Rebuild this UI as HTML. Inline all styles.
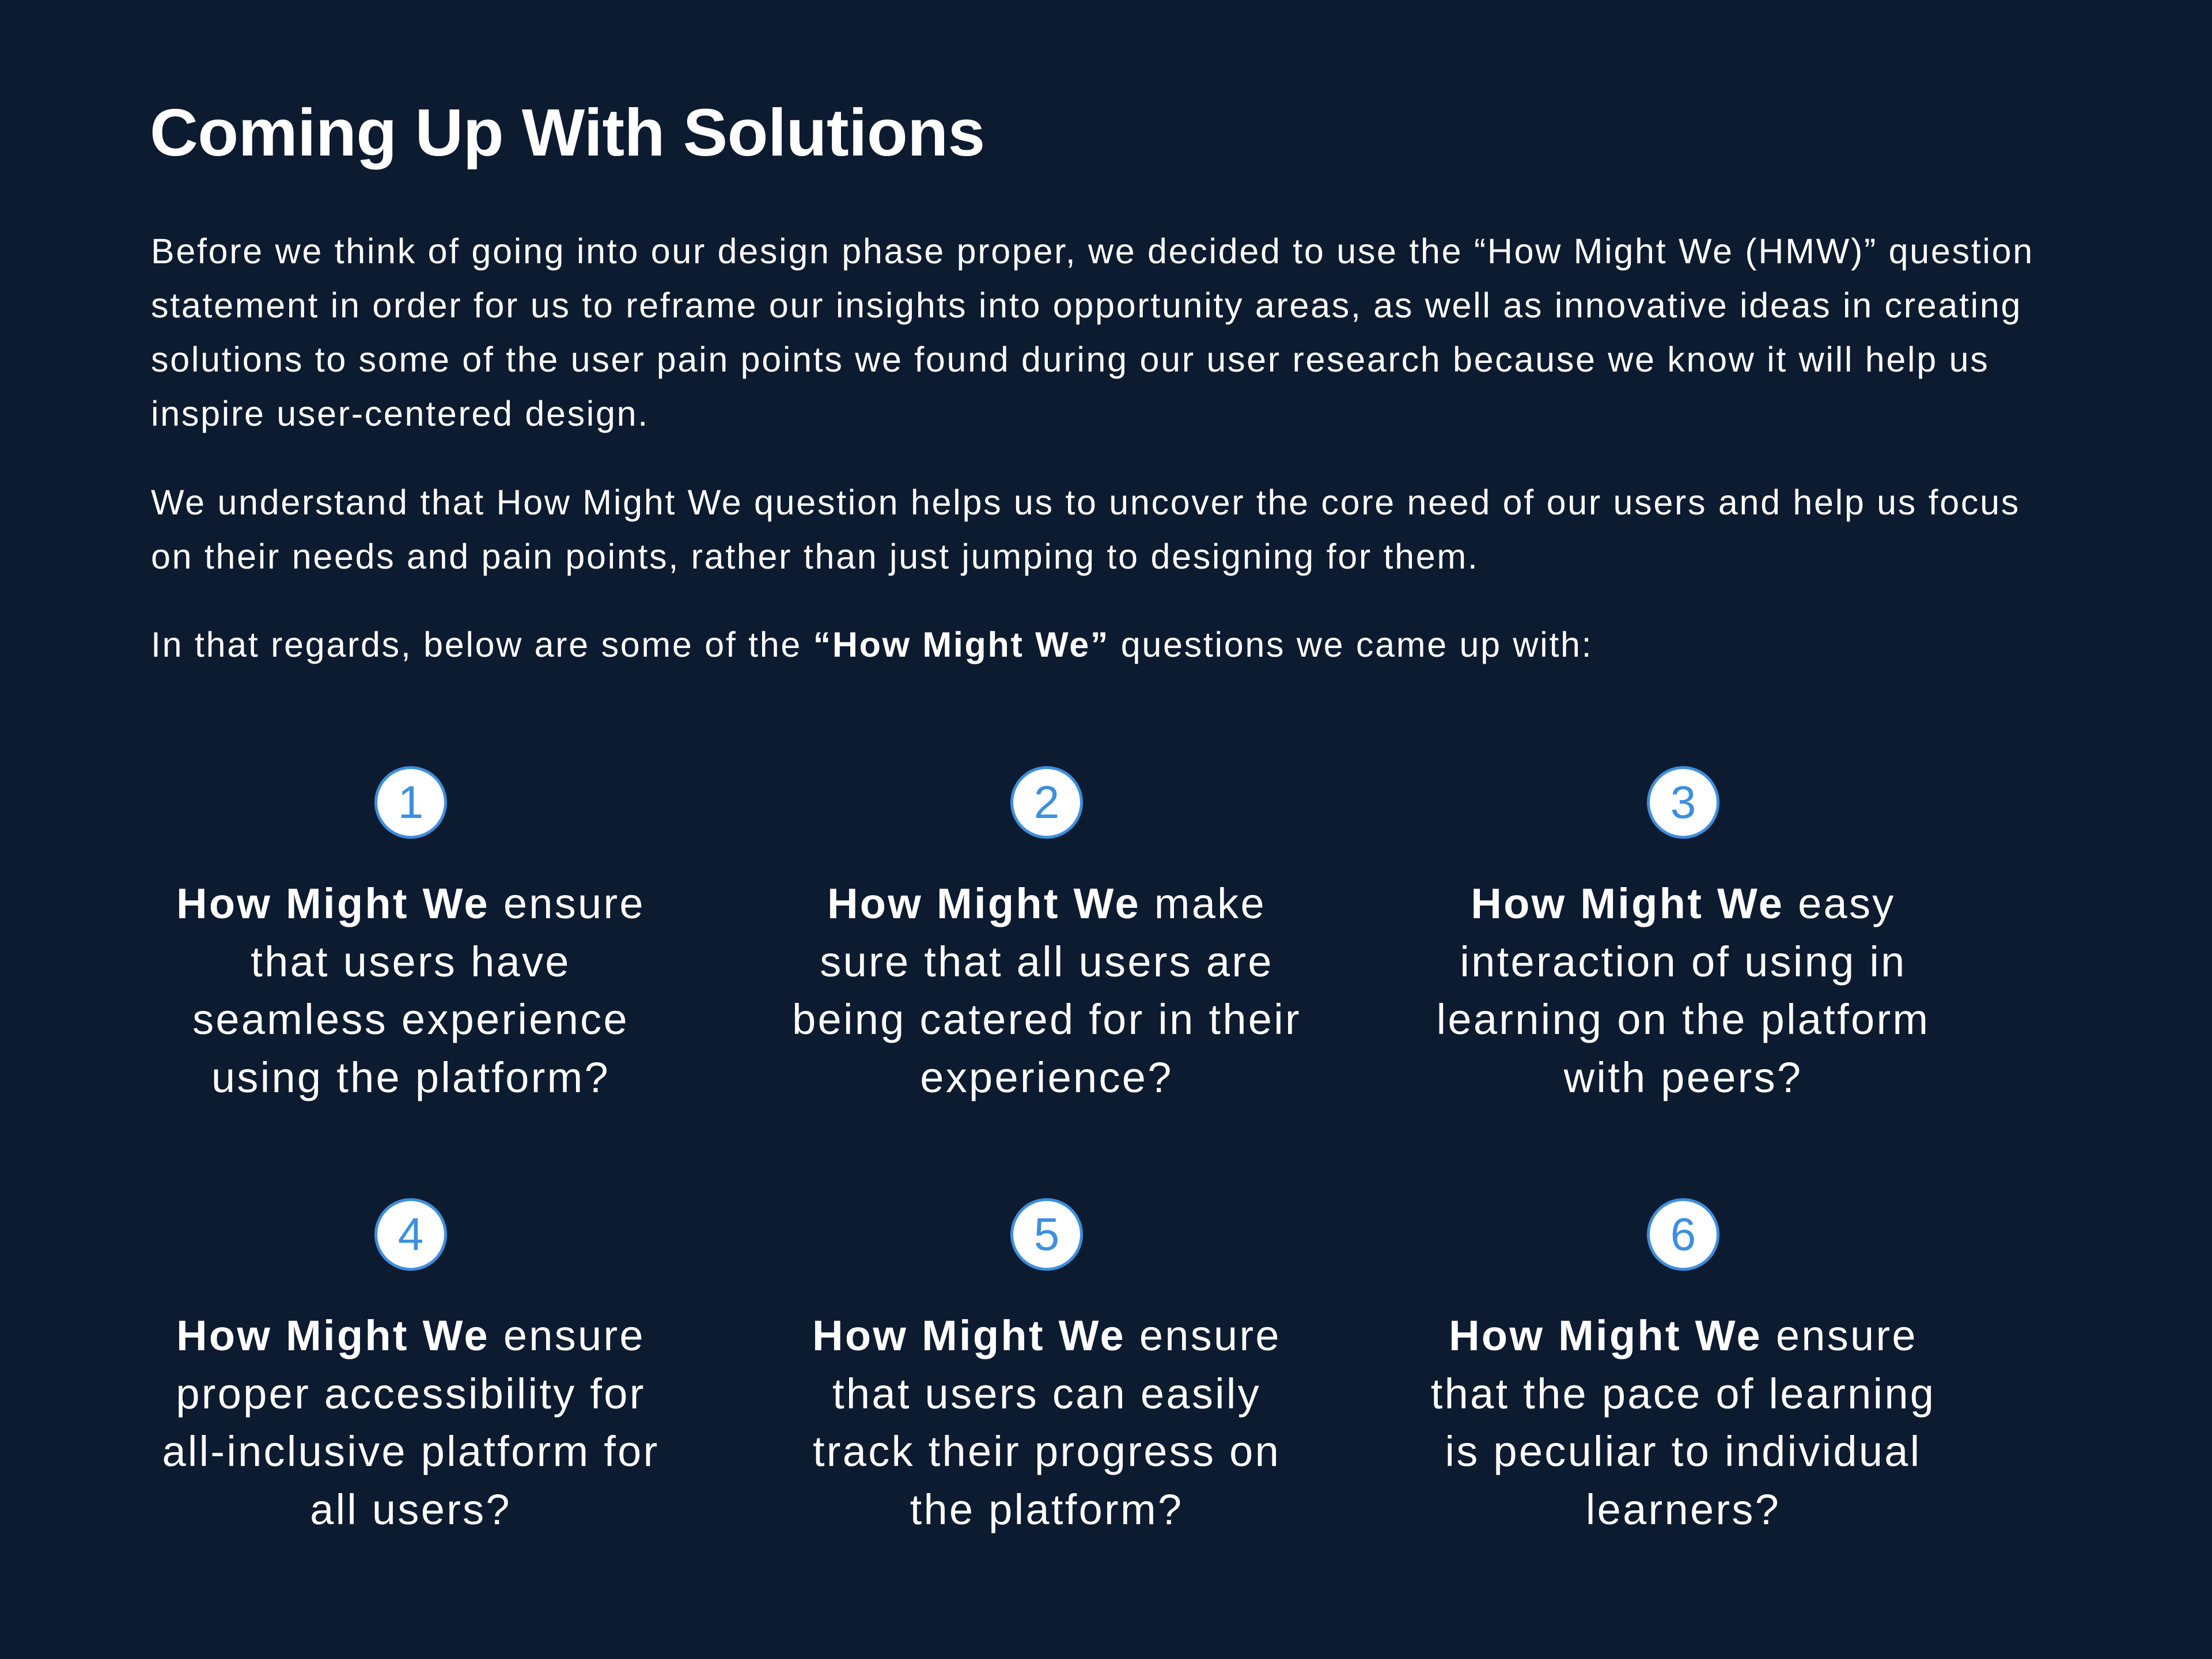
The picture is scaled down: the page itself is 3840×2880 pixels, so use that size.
<!DOCTYPE html>
<html><head><meta charset="utf-8"><style>
*{margin:0;padding:0;box-sizing:border-box}
body{width:3840px;height:2880px;background:#0d1b30;color:#fff;font-family:"Liberation Sans",sans-serif;position:relative;overflow:hidden}
.t{position:absolute;white-space:nowrap}
.title{left:260px;top:160px;font-size:116px;font-weight:bold;line-height:140px;letter-spacing:-0.5px}
.p{left:262px;font-size:61px;line-height:94px;letter-spacing:2.7px}
.c{position:absolute;width:126px;height:126px;border-radius:50%;background:#fff;border:5px solid #3d8fe0;color:#3d8fe0;font-size:80px;line-height:116px;text-align:center}
.q{position:absolute;width:1100px;text-align:center;font-size:74px;line-height:100.5px;white-space:nowrap;letter-spacing:3.3px}
.q b{font-weight:bold}
</style></head><body>
<div class="t title">Coming Up With Solutions</div>
<div class="t p" style="top:389px">Before we think of going into our design phase proper, we decided to use the “How Might We (HMW)” question<br>statement in order for us to reframe our insights into opportunity areas, as well as innovative ideas in creating<br>solutions to some of the user pain points we found during our user research because we know it will help us<br>inspire user-centered design.</div>
<div class="t p" style="top:825px">We understand that How Might We question helps us to uncover the core need of our users and help us focus<br>on their needs and pain points, rather than just jumping to designing for them.</div>
<div class="t p" style="top:1072px">In that regards, below are some of the <b>“How Might We”</b> questions we came up with:</div>

<div class="c" style="left:650px;top:1330px">1</div>
<div class="c" style="left:1754px;top:1330px">2</div>
<div class="c" style="left:2859px;top:1330px">3</div>
<div class="c" style="left:650px;top:2080px">4</div>
<div class="c" style="left:1754px;top:2080px">5</div>
<div class="c" style="left:2859px;top:2080px">6</div>

<div class="q" style="left:163px;top:1519px"><b>How Might We</b> ensure<br>that users have<br>seamless experience<br>using the platform?</div>
<div class="q" style="left:1267px;top:1519px"><b>How Might We</b> make<br>sure that all users are<br>being catered for in their<br>experience?</div>
<div class="q" style="left:2372px;top:1519px"><b>How Might We</b> easy<br>interaction of using in<br>learning on the platform<br>with peers?</div>
<div class="q" style="left:163px;top:2269px"><b>How Might We</b> ensure<br>proper accessibility for<br>all-inclusive platform for<br>all users?</div>
<div class="q" style="left:1267px;top:2269px"><b>How Might We</b> ensure<br>that users can easily<br>track their progress on<br>the platform?</div>
<div class="q" style="left:2372px;top:2269px"><b>How Might We</b> ensure<br>that the pace of learning<br>is peculiar to individual<br>learners?</div>
</body></html>
